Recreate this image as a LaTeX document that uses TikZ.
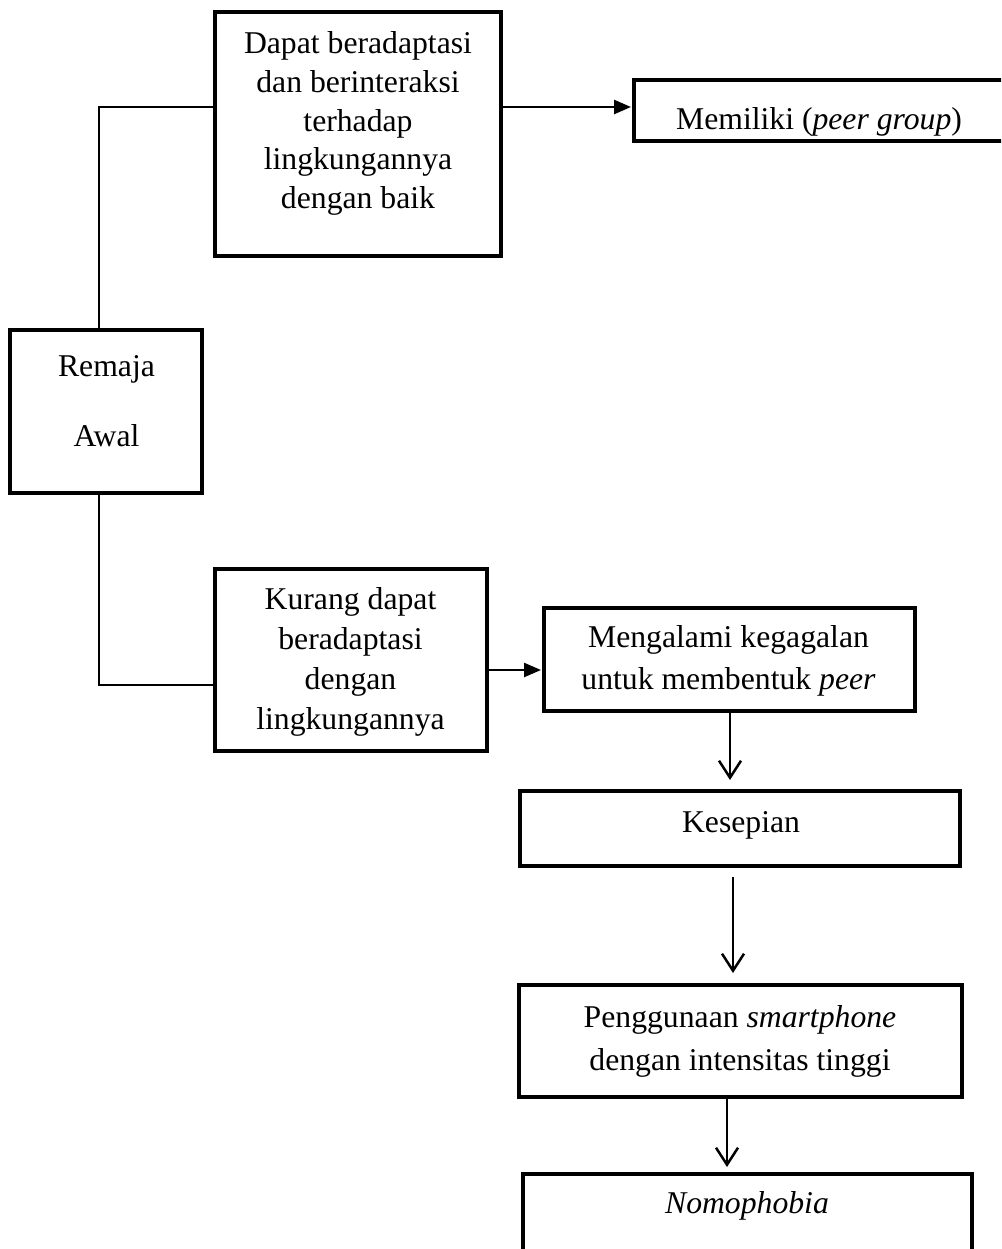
\documentclass[tikz,border=0pt]{standalone}
\usepackage{fontspec}
\setmainfont{Liberation Serif}
\usetikzlibrary{arrows.meta,calc}
\begin{document}
\begin{tikzpicture}[x=1pt,y=-1pt,
  box/.style={draw,line width=4pt,inner sep=0pt},
  txt/.style={align=center,inner sep=0pt},
  link/.style={line width=2pt},
  fa/.style={line width=2.5pt,-{Triangle[length=17pt,width=14pt]},shorten >=1pt},
  oa/.style={line width=2.5pt,-{Straight Barb[length=17pt,width=22pt,line width=2.5pt]}}]
\path[use as bounding box] (0,0) rectangle (1001,1249);
\clip (0,0) rectangle (1001,1249);
% boxes
\node[box,minimum width=286pt,minimum height=244pt] (A) at (358,134) {};
\node[box,minimum width=376pt,minimum height=61pt] (M) at (822,110.5) {};
\node[box,minimum width=192pt,minimum height=163pt] (R) at (106,411.5) {};
\node[box,minimum width=272pt,minimum height=182pt] (B) at (351,660) {};
\node[box,minimum width=371pt,minimum height=103pt] (C) at (729.5,659.5) {};
\node[box,minimum width=440pt,minimum height=75pt] (K) at (740,828.5) {};
\node[box,minimum width=443pt,minimum height=112pt] (P) at (740.5,1041) {};
\node[box,minimum width=449pt,minimum height=86pt] (N) at (747.5,1217) {};
% texts
\node[txt,font=\fontsize{31.7}{38.8}\selectfont] (At) at (358,123.5) {Dapat beradaptasi\\dan berinteraksi\\terhadap\\lingkungannya\\dengan baik};
\node[txt,font=\fontsize{31.7}{38}\selectfont] (Mt) at (819,121.6) {Memiliki (\textit{peer group})};
\node[txt,font=\fontsize{31.7}{70}\selectfont] (Rt) at (106.5,401) {Remaja\\Awal};
\node[txt,font=\fontsize{31.7}{40}\selectfont] (Bt) at (350.5,662) {Kurang dapat\\beradaptasi\\dengan\\lingkungannya};
\node[txt,font=\fontsize{31.7}{42}\selectfont] (Ct) at (728.5,661) {Mengalami kegagalan\\untuk membentuk \textit{peer}};
\node[txt,font=\fontsize{31.7}{38}\selectfont] (Kt) at (741,825) {Kesepian};
\node[txt,font=\fontsize{31.7}{43}\selectfont] (Pt) at (740,1041.5) {Penggunaan \textit{smartphone}\\dengan intensitas tinggi};
\node[txt,font=\fontsize{31.7}{38}\selectfont] (Nt) at (747,1206) {\textit{Nomophobia}};
% connectors
\draw[link] ([yshift=27pt]A.west) -| ([xshift=-7pt]R.north);
\draw[link] ([xshift=-7pt]R.south) |- ([yshift=-25pt]B.west);
\draw[fa] ([yshift=27pt]A.east) -- ([yshift=27pt]A.east -| M.west);
\draw[fa] ([yshift=-10pt]B.east) -- ([yshift=-10pt]B.east -| C.west);
\draw[oa,shorten >=9pt] ([xshift=0.5pt]C.south) -- ([xshift=0.5pt]C.south |- K.north);
\draw[oa,shorten <=9pt,shorten >=10pt] ([xshift=-7pt]K.south) -- ([xshift=-7pt]K.south |- P.north);
\draw[oa,shorten >=5pt] ([xshift=-13.5pt]P.south) -- ([xshift=-13.5pt]P.south |- N.north);
\end{tikzpicture}
\end{document}
